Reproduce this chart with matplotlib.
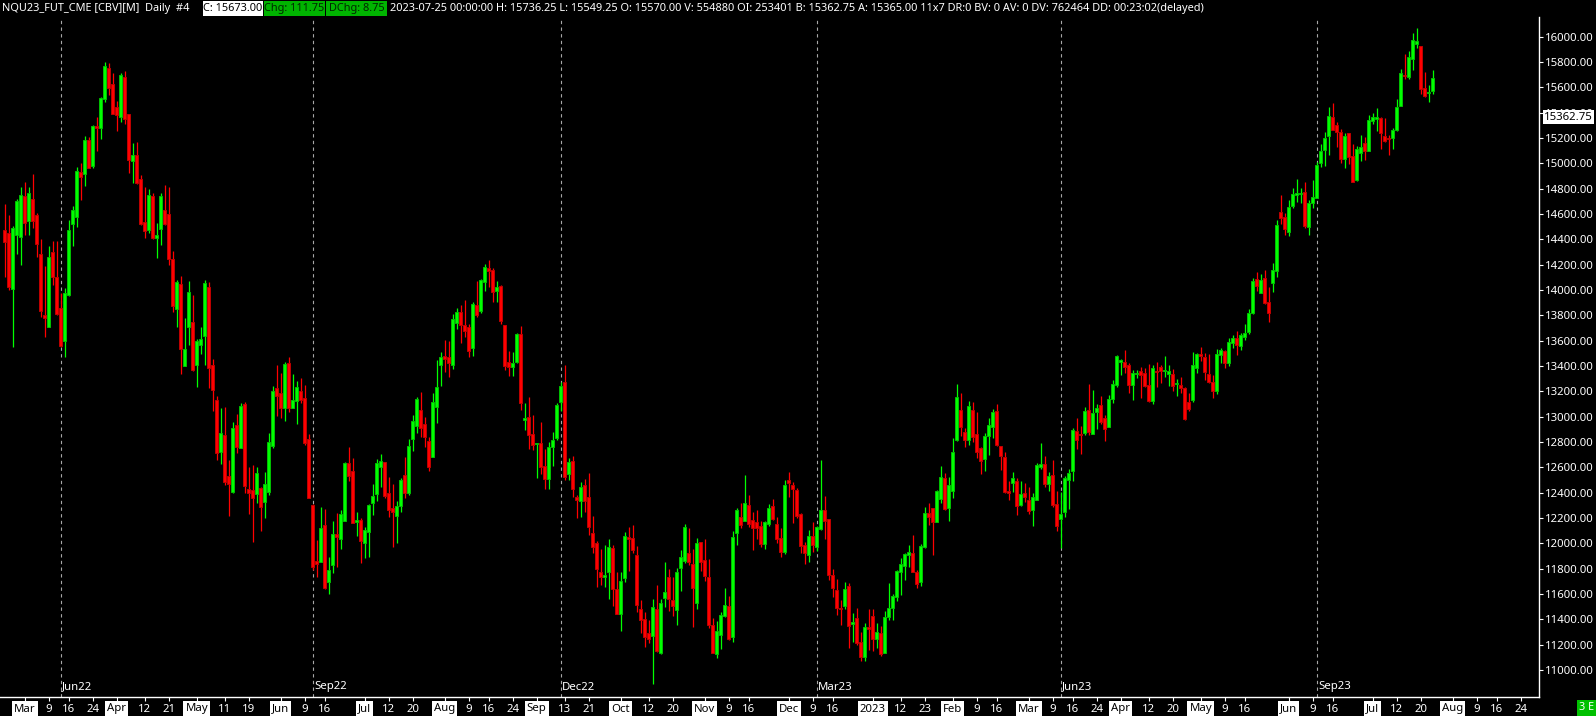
import numpy as np
import pandas as pd
import matplotlib
matplotlib.use("Agg")
import matplotlib.pyplot as plt
import matplotlib.transforms as mtransforms
from matplotlib.patches import Rectangle

# ---------------- data ----------------
opens = [
14473, 14447, 14004, 14431, 14420, 14739, 14547, 14718, 14591, 14283,
13802, 13710, 14297, 14102, 13854, 13599, 13960, 14518, 14578, 14928,
14912, 15181, 14978, 15294, 15281, 15505, 15749, 15623, 15444, 15365,
15681, 15386, 15018, 15065, 14876, 14536, 14473, 14739, 14412, 14483,
14631, 14597, 14244, 13852, 14044, 13402, 13710, 13747, 13407, 13565,
13639, 14026, 13407, 13131, 12723, 12854, 12530, 12407, 12933, 12754,
13099, 12428, 12420, 12386, 12438, 12328, 12407, 12770, 13228, 13183,
13070, 13423, 13070, 13125, 13202, 13144, 12823, 12302, 11859, 11854,
12144, 11696, 11825, 12073, 12030, 12178, 12631, 12570, 12170, 12183,
11999, 12091, 12315, 12388, 12604, 12641, 12394, 12280, 12217, 12296,
12536, 12399, 12820, 12928, 13052, 12941, 12810, 12683, 13073, 13407,
13478, 13467, 13407, 13741, 13825, 13720, 13704, 13544, 13881, 13836,
14065, 14173, 14157, 13994, 14031, 13723, 13431, 13389, 13433, 13652,
12975, 12996, 12859, 12781, 12788, 12609, 12509, 12757, 12833, 13117,
13273, 12544, 12649, 12365, 12333, 12459, 12365, 12078, 12001, 11775,
11730, 11775, 11959, 11638, 11444, 11728, 12049, 12038, 11904, 11478,
11399, 11288, 11270, 11478, 11130, 11570, 11733, 11549, 11475, 11807,
11862, 11920, 11836, 11530, 12007, 11865, 11730, 11354, 11122, 11273,
11428, 11504, 11257, 12083, 12204, 12178, 12299, 12186, 12165, 12136,
11996, 12154, 12294, 12149, 12038, 11930, 12499, 12457, 12420, 12228,
11983, 11909, 12054, 11973, 12115, 12259, 12188, 11749, 11628, 11491,
11507, 11662, 11359, 11407, 11220, 11100, 11338, 11425, 11241, 11288,
11136, 11420, 11486, 11578, 11775, 11822, 11907, 11920, 11770, 11690,
11967, 12238, 12275, 12170, 12346, 12512, 12280, 12415, 12817, 13049,
12875, 12815, 13049, 12859, 12752, 12662, 12849, 12920, 13041, 12765,
12678, 12412, 12478, 12488, 12304, 12396, 12338, 12265, 12341, 12604,
12625, 12467, 12538, 12309, 12188, 12249, 12499, 12573, 12883, 12862,
12873, 13049, 12865, 13038, 13088, 12986, 12920, 13136, 13252, 13433,
13433, 13404, 13246, 13333, 13357, 13341, 13246, 13123, 13360, 13389,
13357, 13338, 13336, 13260, 13246, 13225, 13115, 13133, 13386, 13494,
13467, 13333, 13275, 13200, 13486, 13518, 13420, 13583, 13618, 13557,
13631, 13670, 13815, 14083, 13978, 14091, 13902, 14052, 14152, 14612,
14573, 14460, 14665, 14752, 14757, 14770, 14494, 14689, 14728, 15005,
15107, 15218, 15363, 15299, 15247, 15036, 15236, 15057, 14870, 15084,
15157, 15099, 15331, 15349, 15357, 15215, 15199, 15197, 15260, 15455,
15697, 15684, 15826, 15944, 15923, 15594, 15552, 15570.00]

highs = [
14678, 14591, 14504, 14718, 14812, 14855, 14812, 14915, 14607, 14402,
14189, 14347, 14386, 14386, 13973, 14012, 14552, 14662, 14973, 14999,
15215, 15210, 15302, 15365, 15526, 15802, 15789, 15710, 15491, 15710,
15728, 15390, 15160, 15165, 14907, 14812, 14797, 14768, 14528, 14765,
14828, 14812, 14310, 14078, 14112, 13778, 14070, 13960, 13612, 13707,
14078, 14065, 13454, 13165, 13070, 13078, 12657, 12954, 13020, 13104,
13117, 12604, 12617, 12602, 12446, 12565, 12873, 13241, 13407, 13346,
13433, 13473, 13336, 13281, 13304, 13249, 12862, 12309, 12025, 12288,
12267, 11894, 12175, 12236, 12262, 12641, 12762, 12670, 12249, 12196,
12130, 12309, 12467, 12665, 12704, 12645, 12523, 12467, 12336, 12517,
12683, 12823, 13015, 13157, 13194, 12999, 12836, 13186, 13447, 13512,
13604, 13596, 13810, 13857, 13881, 13920, 13731, 13902, 14070, 14083,
14204, 14236, 14173, 14070, 14035, 13725, 13518, 13510, 13657, 13715,
13104, 13157, 13012, 12794, 12957, 12744, 12799, 12881, 13104, 13275,
13407, 12673, 12688, 12380, 12483, 12507, 12554, 12215, 12017, 11954,
11986, 12033, 11986, 11773, 11770, 12086, 12125, 12144, 11978, 11549,
11454, 11391, 11559, 11670, 11557, 11852, 11794, 11736, 11801, 11944,
12152, 12117, 11954, 12041, 12010, 12033, 11875, 11409, 11388, 11457,
11646, 11583, 12099, 12275, 12315, 12538, 12381, 12246, 12262, 12175,
12178, 12307, 12346, 12209, 12117, 12496, 12562, 12481, 12433, 12236,
12012, 12104, 12167, 12138, 12657, 12373, 12190, 11794, 11715, 11551,
11694, 11683, 11449, 11488, 11299, 11370, 11480, 11478, 11370, 11346,
11465, 11683, 11596, 11791, 11883, 11925, 11986, 12065, 11790, 11994,
12286, 12320, 12280, 12420, 12612, 12552, 12525, 12833, 13257, 13188,
12912, 13125, 13115, 13036, 12762, 12867, 12986, 13059, 13099, 12770,
12723, 12488, 12562, 12515, 12491, 12475, 12441, 12394, 12630, 12791,
12688, 12559, 12657, 12412, 12402, 12530, 12583, 12909, 12988, 12925,
13073, 13257, 13210, 13099, 13162, 13012, 13167, 13288, 13489, 13457,
13525, 13425, 13367, 13367, 13389, 13383, 13415, 13404, 13431, 13404,
13478, 13404, 13373, 13294, 13310, 13236, 13188, 13507, 13504, 13546,
13504, 13494, 13330, 13533, 13541, 13525, 13618, 13644, 13675, 13662,
13731, 13846, 14094, 14141, 14126, 14157, 14026, 14213, 14552, 14749,
14610, 14710, 14805, 14876, 14805, 14852, 14710, 14868, 15010, 15152,
15247, 15442, 15476, 15326, 15270, 15236, 15240, 15152, 15136, 15220,
15207, 15381, 15397, 15436, 15368, 15357, 15223, 15276, 15507, 15742,
15863, 15886, 16029, 16068, 15925, 15721, 15615, 15736.25]

lows = [
14104, 13999, 13552, 14283, 14197, 14433, 14433, 14486, 14262, 13789,
13631, 13705, 14039, 13802, 13552, 13473, 13955, 14349, 14499, 14710,
14823, 14960, 14965, 15097, 15189, 15486, 15539, 15386, 15255, 15328,
15313, 14926, 14841, 14836, 14512, 14412, 14452, 14402, 14254, 14354,
14512, 14197, 13828, 13710, 13333, 13400, 13565, 13362, 13236, 13494,
13407, 13223, 13046, 12657, 12628, 12459, 12217, 12400, 12715, 12749,
12394, 12228, 12012, 12315, 12099, 12196, 12381, 12749, 13004, 12986,
12967, 13033, 13065, 12938, 13104, 12775, 12354, 11788, 11736, 11850,
11636, 11600, 11767, 11815, 11954, 12175, 12494, 12160, 12057, 11846,
11880, 11888, 12223, 12336, 12446, 12354, 12209, 11973, 12004, 12244,
12354, 12380, 12731, 12873, 12841, 12762, 12573, 12680, 12946, 13244,
13354, 13315, 13373, 13689, 13583, 13625, 13467, 13478, 13789, 13815,
13994, 14025, 13907, 13907, 13731, 13367, 13323, 13320, 13425, 13052,
12894, 12744, 12736, 12517, 12546, 12430, 12425, 12609, 12815, 13046,
12499, 12499, 12362, 12202, 12209, 12249, 12065, 11925, 11651, 11670,
11651, 11559, 11507, 11440, 11309, 11696, 11783, 11925, 11459, 11294,
11183, 11209, 10890, 11138, 11125, 11499, 11467, 11425, 11357, 11625,
11846, 11828, 11341, 11480, 11783, 11704, 11328, 11130, 11091, 11165,
11420, 11236, 11222, 11988, 12120, 12175, 12125, 11949, 12030, 11973,
11952, 12136, 12183, 11999, 11888, 11915, 12362, 12162, 12202, 11920,
11838, 11854, 11933, 11941, 12104, 12036, 11709, 11578, 11433, 11351,
11478, 11175, 11222, 11196, 11070, 11070, 11157, 11151, 11170, 11109,
11130, 11394, 11394, 11544, 11591, 11709, 11815, 11770, 11650, 11660,
11959, 12144, 11907, 12165, 12320, 12262, 12178, 12359, 12809, 12846,
12762, 12773, 12802, 12673, 12546, 12570, 12696, 12833, 12767, 12575,
12394, 12341, 12407, 12225, 12294, 12328, 12230, 12138, 12338, 12583,
12446, 12415, 12283, 12099, 11959, 12209, 12273, 12494, 12746, 12704,
12854, 12854, 12860, 12899, 12941, 12809, 12915, 13110, 13236, 13328,
13346, 13188, 13131, 13302, 13149, 13236, 13115, 13099, 13236, 13262,
13315, 13241, 13204, 13165, 13183, 12973, 13044, 13112, 13346, 13441,
13288, 13262, 13150, 13180, 13420, 13380, 13400, 13539, 13486, 13525,
13604, 13652, 13810, 13994, 13975, 13889, 13749, 13986, 14105, 14520,
14433, 14426, 14649, 14697, 14689, 14486, 14433, 14644, 14725, 14968,
14981, 15065, 15262, 15131, 15005, 14963, 14994, 14850, 14857, 15020,
15026, 15095, 15310, 15257, 15113, 15170, 15065, 15113, 15255, 15450,
15663, 15665, 15736, 15913, 15547, 15523, 15486, 15549.25]

closes = [
14381, 14026, 14486, 14702, 14747, 14525, 14762, 14547, 14360, 13836,
13781, 14260, 14104, 13810, 13560, 13973, 14473, 14631, 14939, 14894,
15181, 14965, 15294, 15278, 15515, 15768, 15597, 15392, 15381, 15697,
15352, 15026, 15065, 14844, 14518, 14468, 14749, 14407, 14433, 14741,
14523, 14247, 13875, 14062, 13536, 13533, 13983, 13367, 13596, 13612,
14054, 13381, 13212, 12715, 12867, 12486, 12465, 12909, 12762, 13083,
12454, 12399, 12359, 12552, 12288, 12465, 12799, 13202, 13165, 13070,
13415, 13070, 13131, 13233, 13131, 12794, 12359, 11815, 11838, 12120,
11649, 11788, 12073, 12052, 12228, 12636, 12533, 12162, 12183, 12020,
12104, 12302, 12373, 12631, 12649, 12375, 12262, 12249, 12294, 12499,
12399, 12767, 12965, 13138, 12912, 12838, 12604, 13112, 13233, 13467,
13454, 13420, 13770, 13823, 13720, 13678, 13520, 13886, 13802, 14078,
14178, 14152, 13986, 14020, 13757, 13402, 13389, 13420, 13652, 13110,
12986, 12852, 12778, 12791, 12599, 12509, 12757, 12815, 13091, 13241,
12525, 12641, 12425, 12344, 12444, 12336, 12125, 11973, 11794, 11730,
11749, 11967, 11641, 11444, 11699, 12054, 12033, 11949, 11515, 11394,
11257, 11246, 11494, 11149, 11525, 11612, 11562, 11501, 11770, 11888,
12125, 11854, 11649, 11999, 11854, 11744, 11357, 11136, 11304, 11430,
11512, 11241, 12046, 12259, 12144, 12315, 12154, 12123, 12123, 11996,
12165, 12275, 12191, 12030, 11933, 12457, 12478, 12425, 12217, 11980,
11920, 12059, 11983, 12130, 12259, 12175, 11752, 11644, 11491, 11478,
11636, 11349, 11378, 11215, 11100, 11336, 11320, 11241, 11296, 11122,
11415, 11486, 11586, 11780, 11833, 11912, 11928, 11775, 11680, 11978,
12238, 12209, 12170, 12412, 12520, 12267, 12457, 12717, 13152, 12920,
12815, 13081, 12841, 12723, 12646, 12846, 12931, 13033, 12775, 12691,
12402, 12399, 12512, 12296, 12388, 12367, 12257, 12362, 12617, 12625,
12467, 12530, 12301, 12138, 12230, 12515, 12552, 12894, 12817, 12854,
13041, 12881, 13025, 13065, 12957, 12904, 13136, 13257, 13478, 13446,
13394, 13249, 13341, 13341, 13331, 13241, 13120, 13381, 13354, 13357,
13365, 13360, 13244, 13265, 13228, 12981, 13062, 13404, 13494, 13481,
13354, 13275, 13200, 13491, 13523, 13420, 13589, 13618, 13565, 13641,
13657, 13815, 14068, 14033, 14078, 13894, 13820, 14154, 14510, 14570,
14478, 14652, 14757, 14765, 14768, 14507, 14684, 14731, 14984, 15094,
15197, 15370, 15265, 15249, 15036, 15215, 15052, 14855, 15110, 15126,
15099, 15342, 15363, 15363, 15236, 15178, 15189, 15260, 15442, 15710,
15689, 15836, 15971, 15963, 15589, 15534, 15561.25, 15673.00]

# trading calendar (CME session days shown on chart)
holidays = ["2022-04-15", "2022-05-30", "2022-06-20", "2022-07-04", "2022-09-05",
            "2022-11-24", "2022-12-26", "2023-01-02", "2023-01-16", "2023-02-20",
            "2023-05-29", "2023-06-19", "2023-07-04", "2023-09-04"]
first_day = "2022-02-22"
last_data_day = "2023-07-25"
axis_end_day = "2023-09-15"

# contract roll markers: (date, label)
rolls = [("2022-03-14", "Jun22"), ("2022-06-13", "Sep22"), ("2022-09-12", "Dec22"),
         ("2022-12-12", "Mar23"), ("2023-03-13", "Jun23"), ("2023-06-12", "Sep23")]

# x-axis labels: (date, text, is_month)
xlabels = [
("2022-03-01", "Mar", 1), ("2022-03-09", "9", 0), ("2022-03-16", "16", 0), ("2022-03-24", "24", 0),
("2022-04-01", "Apr", 1), ("2022-04-12", "12", 0), ("2022-04-21", "21", 0),
("2022-05-02", "May", 1), ("2022-05-11", "11", 0), ("2022-05-19", "19", 0),
("2022-06-01", "Jun", 1), ("2022-06-09", "9", 0), ("2022-06-16", "16", 0),
("2022-07-01", "Jul", 1), ("2022-07-12", "12", 0), ("2022-07-20", "20", 0),
("2022-08-01", "Aug", 1), ("2022-08-09", "9", 0), ("2022-08-16", "16", 0), ("2022-08-24", "24", 0),
("2022-09-01", "Sep", 1), ("2022-09-13", "13", 0), ("2022-09-21", "21", 0),
("2022-10-03", "Oct", 1), ("2022-10-12", "12", 0), ("2022-10-20", "20", 0),
("2022-11-01", "Nov", 1), ("2022-11-09", "9", 0), ("2022-11-16", "16", 0),
("2022-12-01", "Dec", 1), ("2022-12-09", "9", 0), ("2022-12-16", "16", 0),
("2023-01-03", "2023", 1), ("2023-01-12", "12", 0), ("2023-01-23", "23", 0),
("2023-02-01", "Feb", 1), ("2023-02-09", "9", 0), ("2023-02-16", "16", 0),
("2023-03-01", "Mar", 1), ("2023-03-09", "9", 0), ("2023-03-16", "16", 0), ("2023-03-24", "24", 0),
("2023-04-03", "Apr", 1), ("2023-04-12", "12", 0), ("2023-04-20", "20", 0),
("2023-05-01", "May", 1), ("2023-05-09", "9", 0), ("2023-05-16", "16", 0),
("2023-06-01", "Jun", 1), ("2023-06-09", "9", 0), ("2023-06-16", "16", 0),
("2023-07-03", "Jul", 1), ("2023-07-12", "12", 0), ("2023-07-20", "20", 0),
("2023-08-01", "Aug", 1), ("2023-08-09", "9", 0), ("2023-08-16", "16", 0), ("2023-08-24", "24", 0),
]

yticks = list(range(11000, 16001, 200))
bid_price = 15362.75
header_name = "NQU23_FUT_CME [CBV][M]  Daily  #4"
header_c = "C: 15673.00"
header_chg = "Chg: 111.75"
header_dchg = "DChg: 8.75"
header_rest = ("2023-07-25 00:00:00 H: 15736.25 L: 15549.25 O: 15570.00 V: 554880 OI: 253401 "
               "B: 15362.75 A: 15365.00 11x7 DR:0 BV: 0 AV: 0 DV: 762464 DD: 00:23:02(delayed)")

# ---------------- figure ----------------
W, H = 1596, 716
FONT = ["Noto Sans", "DejaVu Sans"]
plt.rcParams["font.family"] = FONT
fig = plt.figure(figsize=(W / 100, H / 100), dpi=100, facecolor="black")

ax_left, ax_right, ax_top, ax_bot = 0, 1539, 17, 697
ax = fig.add_axes([ax_left / W, (H - ax_bot) / H, (ax_right - ax_left) / W, (ax_bot - ax_top) / H])
ax.set_facecolor("black")

cal = pd.bdate_range(first_day, axis_end_day, freq="C", holidays=holidays)
n = len(opens)
pos = {d: i for i, d in enumerate(cal)}


def idx(ds):
    return pos[pd.Timestamp(ds)]


o = np.array(opens, float)
h = np.array(highs, float)
l = np.array(lows, float)
c = np.array(closes, float)
x = np.arange(n)
up = c >= o
GREEN, GREEN_E = "#00ff00", "#00c000"
RED, RED_E = "#ff0000", "#c00000"
col = np.where(up, GREEN, RED)
ecol = np.where(up, GREEN_E, RED_E)

# roll markers
trans_xa = mtransforms.blended_transform_factory(ax.transData, ax.transAxes)
for ds, lab in rolls:
    xi = idx(ds)
    ax.axvline(xi, color="#a8a8a8", lw=0.8, ls=(0, (3, 3)), zorder=1)
    ax.text(xi + 0.3, (ax_bot - 687) / (ax_bot - ax_top), lab, transform=trans_xa,
            color="white", fontsize=8.2, ha="left", va="center", zorder=2)

# wicks and bodies
ax.vlines(x, l, h, colors=col, lw=0.9, zorder=3)
body_lo = np.minimum(o, c)
body_h = np.maximum(np.abs(c - o), 8)
ax.bar(x, body_h, bottom=body_lo, width=0.62, color=col, edgecolor=ecol, linewidth=0.7, zorder=4)

ax.set_xlim(-1.175, 383.575)
ax.set_ylim(10785.5, 16154.8)

# y axis on right
ax.yaxis.tick_right()
ax.set_yticks(yticks)
ax.set_yticklabels([f"{v:.2f}" for v in yticks])
ax.tick_params(axis="y", colors="white", labelcolor="white", length=3, width=0.8,
               pad=1.5, labelsize=8.2, direction="out")
for s in ["left", "top"]:
    ax.spines[s].set_visible(False)
for s in ["right", "bottom"]:
    ax.spines[s].set_color("white")
    ax.spines[s].set_linewidth(1.0)

# x axis ticks + manual labels
xt = [idx(d) for d, _, _ in xlabels]
ax.set_xticks(xt)
ax.set_xticklabels([])
ax.tick_params(axis="x", colors="white", length=3, width=0.8, direction="out")
ylab = -(709 - ax_bot) / (ax_bot - ax_top)
for (d, t, m), xi in zip(xlabels, xt):
    if m:
        ax.text(xi, ylab, t, transform=trans_xa, ha="center", va="center", color="black",
                fontsize=8.2, clip_on=False,
                bbox=dict(boxstyle="square,pad=0.18", fc="white", ec="none"))
    else:
        ax.text(xi, ylab, t, transform=trans_xa, ha="center", va="center", color="white",
                fontsize=8.2, clip_on=False)

# current price box (drawn over the 15400 label, as in the platform)
trans_ad = mtransforms.blended_transform_factory(ax.transAxes, ax.transData)
ax.text(1 + 5 / (ax_right - ax_left), bid_price, "15362.75", transform=trans_ad, ha="left",
        va="center", color="black", fontsize=8.2, clip_on=False, zorder=10,
        bbox=dict(boxstyle="square,pad=0.12", fc="white", ec="none"))

# header
HFS = 7.9
hy = 1 - 8.5 / H


def hbox(x0, x1, fc):
    fig.patches.append(Rectangle((x0 / W, 1 - 16 / H), (x1 - x0) / W, 15 / H,
                                 transform=fig.transFigure, facecolor=fc, edgecolor="none"))


fig.text(2 / W, hy, header_name, color="white", fontsize=HFS, ha="left", va="center")
hbox(203, 263, "white")
fig.text(233 / W, hy, header_c, color="black", fontsize=HFS, ha="center", va="center")
hbox(264, 325, "#00b400")
fig.text(294.5 / W, hy, header_chg, color="#002800", fontsize=HFS, ha="center", va="center")
hbox(326, 387, "#00b400")
fig.text(356.5 / W, hy, header_dchg, color="#002800", fontsize=HFS, ha="center", va="center")
fig.text(390 / W, hy, header_rest, color="white", fontsize=HFS, ha="left", va="center")

# bottom-right status box
fig.patches.append(Rectangle((1577 / W, 0), 19 / W, 16 / H, transform=fig.transFigure,
                             facecolor="#00c000", edgecolor="none"))
fig.text(1586.5 / W, 8 / H, "3 E", color="white", fontsize=7.8, ha="center", va="center")

fig.savefig("out.png", dpi=100, facecolor="black")
